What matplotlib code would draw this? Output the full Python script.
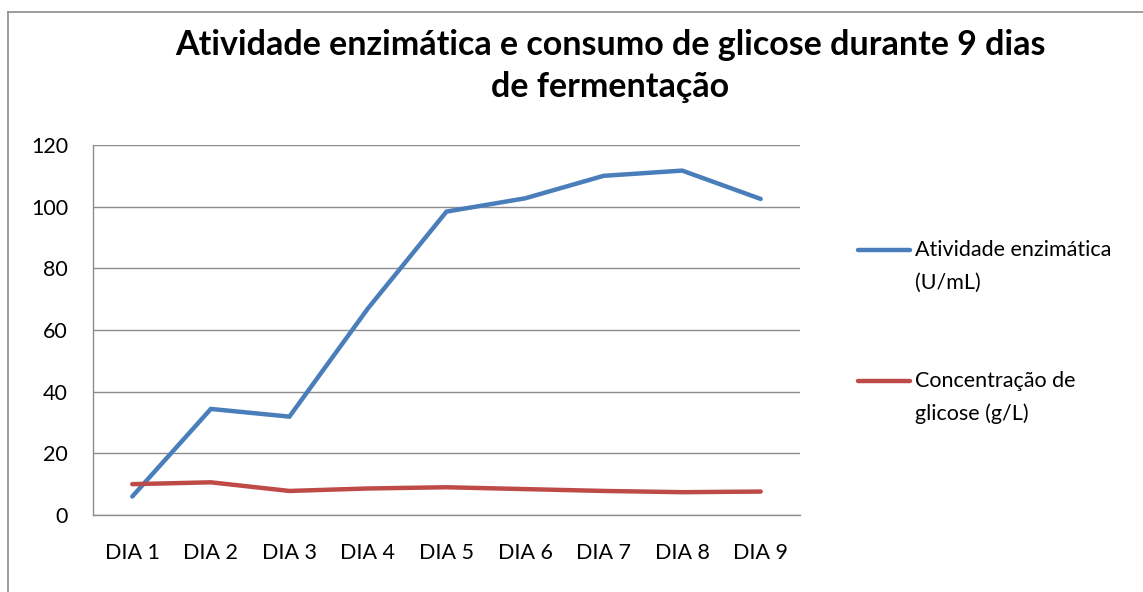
import matplotlib.pyplot as plt
import matplotlib.lines as mlines

dias = ["DIA 1", "DIA 2", "DIA 3", "DIA 4", "DIA 5", "DIA 6", "DIA 7", "DIA 8", "DIA 9"]
atividade = [6, 34.4, 31.9, 67, 98.4, 102.7, 110, 111.7, 102.5]
glicose = [10, 10.6, 7.8, 8.6, 9.0, 8.4, 7.8, 7.4, 7.6]

plt.rcParams['font.family'] = ['Lato', 'DejaVu Sans']

W, H = 1143, 592
fig = plt.figure(figsize=(W / 100, H / 100), dpi=100)
ax = fig.add_axes([93 / W, 1 - 515 / H, (800 - 93) / W, (515 - 145) / H])

x = range(len(dias))
ax.plot(x, atividade, color="#4A7EBB", lw=3.2, solid_capstyle="round",
        solid_joinstyle="miter", zorder=3)
ax.plot(x, glicose, color="#BE4B48", lw=3.2, solid_capstyle="round",
        solid_joinstyle="miter", zorder=3)

ax.set_xlim(-0.5, len(dias) - 0.5)
ax.set_ylim(0, 120)
ax.set_yticks(range(0, 121, 20))
ax.set_xticks(list(x))
ax.set_xticklabels(dias)
ax.yaxis.grid(True, color="#8c8c8c", lw=1)
ax.set_axisbelow(True)
for s in ["top", "right"]:
    ax.spines[s].set_visible(False)
for s in ["left", "bottom"]:
    ax.spines[s].set_color("#8c8c8c")
    ax.spines[s].set_linewidth(1)
ax.tick_params(length=0, labelsize=15.5, colors="#000000")
ax.tick_params(axis="y", pad=18)
ax.tick_params(axis="x", pad=20)

# title
fig.text(610 / W, 1 - 45 / H, "Atividade enzimática e consumo de glicose durante 9 dias",
         ha="center", va="center", fontsize=24.5, fontweight="bold")
fig.text(610 / W, 1 - 87 / H, "de fermentação",
         ha="center", va="center", fontsize=24.5, fontweight="bold")

# legend
leg = [("#4A7EBB", 250, ["Atividade enzimática", "(U/mL)"]),
       ("#BE4B48", 381, ["Concentração de", "glicose (g/L)"])]
for col, yy, linhas in leg:
    fig.add_artist(mlines.Line2D([858 / W, 910 / W], [1 - yy / H, 1 - yy / H],
                                 color=col, lw=3.2, solid_capstyle="round"))
    for i, lab in enumerate(linhas):
        fig.text(915 / W, 1 - (yy + 33 * i) / H, lab, ha="left", va="center",
                 fontsize=15.5)

# outer chart border
fig.add_artist(mlines.Line2D([8 / W, 8 / W], [0, 1 - 12 / H], color="#8c8c8c", lw=1.2))
fig.add_artist(mlines.Line2D([8 / W, 1], [1 - 12 / H, 1 - 12 / H], color="#8c8c8c", lw=1.2))

fig.savefig("out.png", dpi=100)
